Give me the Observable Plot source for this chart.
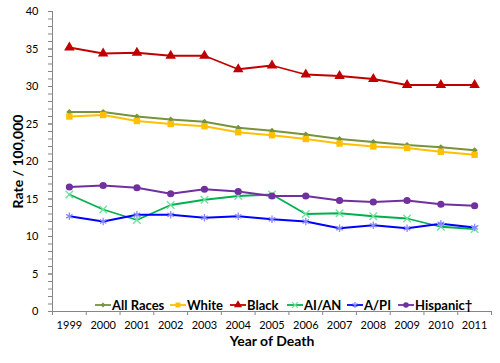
<!DOCTYPE html>
<html>
<head>
<meta charset="utf-8">
<script src="https://cdn.jsdelivr.net/npm/d3@7"></script>
<script src="https://cdn.jsdelivr.net/npm/@observablehq/plot@0.6"></script>
<style>
  html, body { margin: 0; padding: 0; background: #fff; }
  #wrap { position: relative; width: 500px; height: 363px; font-family: Lato, "Open Sans", sans-serif; }
  #legend { position: absolute; left: 0; top: 297px; height: 16px; width: 500px; }
  .item { position: absolute; top: 0; display: flex; align-items: center; height: 16px; font-weight: bold; font-size: 13px; color: #000; white-space: nowrap; }
  .item svg { display: block; margin-right: 1px; }
</style>
</head>
<body>
<div id="wrap"><div id="legend"></div></div>
<script>
const years = [1999, 2000, 2001, 2002, 2003, 2004, 2005, 2006, 2007, 2008, 2009, 2010, 2011];
const allRaces = [26.6, 26.6, 26.0, 25.6, 25.3, 24.5, 24.1, 23.6, 23.0, 22.6, 22.2, 21.9, 21.5];
const white    = [26.0, 26.2, 25.4, 25.0, 24.7, 23.9, 23.5, 23.0, 22.4, 22.0, 21.8, 21.3, 20.9];
const black    = [35.2, 34.4, 34.5, 34.1, 34.1, 32.3, 32.8, 31.6, 31.4, 31.0, 30.2, 30.2, 30.2];
const aian     = [15.6, 13.6, 12.2, 14.2, 14.9, 15.4, 15.6, 13.0, 13.1, 12.7, 12.4, 11.3, 11.0];
const api      = [12.7, 12.0, 12.9, 12.9, 12.5, 12.7, 12.3, 12.0, 11.1, 11.5, 11.1, 11.7, 11.2];
const hispanic = [16.6, 16.8, 16.5, 15.7, 16.3, 16.0, 15.4, 15.4, 14.8, 14.6, 14.8, 14.3, 14.1];
const seriesNames = ["All Races", "White", "Black", "AI/AN", "A/PI", "Hispanic\u2020"];
const seriesValues = [allRaces, white, black, aian, api, hispanic];
const yTicks = [0, 5, 10, 15, 20, 25, 30, 35, 40];

const styles = [
  {line: "#77933C", mark: "#77933C", symbol: "diamond2", r: 2.8, filled: true},
  {line: "#FFC000", mark: "#FFC000", symbol: "square", r: 3.6, filled: true},
  {line: "#C00000", mark: "#C00000", symbol: "triangle", r: 3.9, filled: true},
  {line: "#00B050", mark: "#6EE39A", symbol: "times", r: 3.5, filled: false},
  {line: "#0000FF", mark: "#8A8AFF", symbol: "asterisk", r: 3.5, filled: false},
  {line: "#7030A0", mark: "#7030A0", symbol: "circle", r: 3.6, filled: true}
];

const rows = [];
seriesNames.forEach((name, i) => years.forEach((yr, j) => rows.push({series: name, idx: i, year: yr, value: seriesValues[i][j]})));

const minorTicks = d3.range(0, 41, 1);
const bounds = d3.range(1998.5, 2012, 1);

const marks = [
  Plot.ruleX([1998.5], {stroke: "#868686", strokeWidth: 1}),
  Plot.ruleY([0], {stroke: "#868686", strokeWidth: 1}),
  Plot.axisY({ticks: minorTicks, tickSize: 4, tickFormat: () => "", stroke: "#868686", label: null}),
  Plot.axisY({ticks: yTicks, tickSize: 4, tickPadding: 10, fontSize: 11, label: null, stroke: "#868686", fill: "#000"}),
  Plot.axisX({ticks: bounds, tickSize: 4, tickFormat: () => "", stroke: "#868686", label: null}),
  Plot.axisX({ticks: years, tickSize: 0, tickPadding: 10, tickFormat: d => String(d), fontSize: 11, label: null, fill: "#000"}),
  Plot.text(["Rate / 100,000"], {frameAnchor: "left", dx: -34, rotate: -90, fontWeight: "bold", fontSize: 14, textAnchor: "middle"}),
  Plot.text(["Year of Death"], {frameAnchor: "bottom", dy: 34, fontWeight: "bold", fontSize: 14, textAnchor: "middle"})
];

styles.forEach((s, i) => {
  const data = rows.filter(d => d.idx === i);
  marks.push(Plot.line(data, {x: "year", y: "value", stroke: s.line, strokeWidth: 1.8}));
});
styles.forEach((s, i) => {
  const data = rows.filter(d => d.idx === i);
  marks.push(Plot.dot(data, s.filled
    ? {x: "year", y: "value", symbol: () => s.symbol, r: s.r, fill: s.mark, stroke: "none"}
    : {x: "year", y: "value", symbol: () => s.symbol, r: s.r, stroke: s.mark, strokeWidth: 1.3, fill: "none"}));
});

const chart = Plot.plot({
  width: 500,
  height: 363,
  marginLeft: 52,
  marginRight: 9,
  marginTop: 11,
  marginBottom: 52,
  style: {fontFamily: "Lato, 'Open Sans', sans-serif", background: "#fff", color: "#000"},
  x: {type: "linear", domain: [1998.5, 2011.5], axis: null},
  y: {type: "linear", domain: [0, 40], axis: null},
  symbol: {type: "identity"},
  marks
});
document.getElementById("wrap").prepend(chart);

// legend
const legendX = [95, 170, 230, 287, 347, 398];
const legend = document.getElementById("legend");
const symMap = {diamond2: d3.symbolDiamond2, square: d3.symbolSquare, triangle: d3.symbolTriangle, times: d3.symbolTimes, asterisk: d3.symbolAsterisk, circle: d3.symbolCircle};
seriesNames.forEach((name, i) => {
  const s = styles[i];
  const item = document.createElement("div");
  item.className = "item";
  item.style.left = legendX[i] + "px";
  const svg = d3.create("svg").attr("width", 16).attr("height", 16);
  svg.append("line").attr("x1", 0).attr("x2", 16).attr("y1", 8).attr("y2", 8).attr("stroke", s.line).attr("stroke-width", 1.8);
  const p = d3.symbol(symMap[s.symbol], Math.PI * s.r * s.r * 0.6)();
  const path = svg.append("path").attr("d", p).attr("transform", "translate(8,8)");
  if (s.filled) path.attr("fill", s.mark); else path.attr("fill", "none").attr("stroke", s.mark).attr("stroke-width", 1.2);
  item.appendChild(svg.node());
  const span = document.createElement("span");
  span.textContent = name;
  item.appendChild(span);
  legend.appendChild(item);
});
</script>
</body>
</html>
